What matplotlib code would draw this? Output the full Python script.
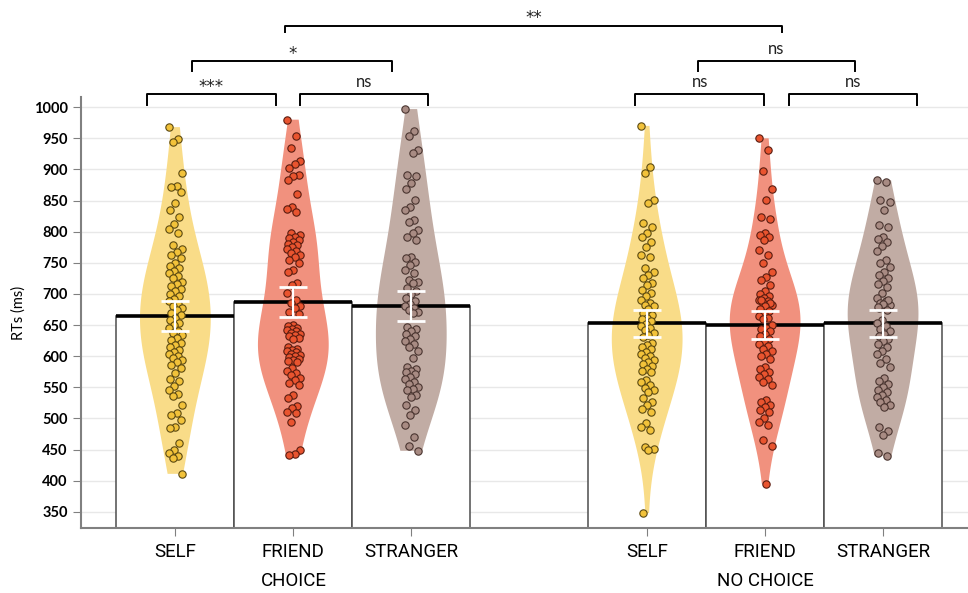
"""RT violins + bars, choice vs no-choice, self / friend / stranger."""
import numpy as np
import matplotlib
matplotlib.use("Agg")
import matplotlib.pyplot as plt

# ---- data ---------------------------------------------------------------
CATEGORIES = ["SELF", "FRIEND", "STRANGER"]
GROUPS = ["CHOICE", "NO CHOICE"]

means_choice = [664, 687, 680]
means_nochoice = [653, 650, 653]
sem_choice = [24, 24, 24]
sem_nochoice = [22, 22, 22]

choice_self = [968, 949, 944, 895, 874, 872, 863, 846, 835, 823, 812, 805, 798,
               778, 772, 768, 762, 758, 750, 745, 741, 737, 733, 729, 726, 720,
               716, 712, 708, 704, 700, 696, 692, 688, 684, 680, 678, 674, 670,
               666, 662, 658, 653, 650, 646, 641, 637, 634, 630, 626, 622, 618,
               615, 610, 606, 603, 600, 597, 594, 590, 586, 581, 573, 563, 560,
               552, 545, 539, 536, 522, 509, 506, 497, 487, 485, 461, 449, 445,
               440, 437, 411]
choice_friend = [980, 954, 935, 914, 908, 903, 891, 889, 883, 860, 840, 836, 832,
                 798, 795, 792, 790, 787, 784, 781, 778, 775, 772, 769, 766, 763,
                 760, 754, 749, 738, 735, 718, 715, 701, 690, 685, 680, 677, 671,
                 668, 650, 648, 646, 644, 642, 640, 638, 636, 634, 632, 630, 628,
                 615, 612, 610, 608, 606, 604, 602, 600, 598, 596, 594, 592, 590,
                 581, 577, 573, 569, 565, 561, 557, 554, 537, 533, 520, 517, 511,
                 508, 495, 449, 443, 441]
choice_stranger = [997, 961, 953, 932, 926, 891, 889, 878, 868, 851, 840, 835, 819,
                   816, 803, 798, 792, 786, 760, 757, 752, 746, 738, 733, 722, 720,
                   717, 710, 705, 700, 693, 688, 684, 680, 677, 674, 671, 669, 647,
                   643, 640, 636, 632, 628, 624, 620, 614, 608, 597, 583, 580, 577,
                   574, 571, 567, 563, 559, 555, 551, 548, 546, 538, 535, 522, 514,
                   506, 490, 470, 455, 448]
nochoice_self = [970, 904, 894, 851, 846, 814, 808, 798, 792, 784, 776, 762, 760,
                 741, 736, 730, 726, 718, 714, 706, 702, 696, 690, 685, 682, 680,
                 676, 669, 666, 662, 659, 656, 652, 649, 646, 642, 638, 634, 631,
                 621, 618, 614, 611, 607, 604, 600, 597, 594, 590, 587, 584, 580,
                 577, 575, 562, 558, 553, 549, 545, 543, 533, 527, 521, 515, 510,
                 493, 487, 482, 454, 451, 449, 348]
nochoice_friend = [950, 932, 898, 868, 851, 823, 820, 798, 795, 792, 786, 770, 762,
                   749, 736, 728, 722, 714, 704, 700, 697, 694, 691, 688, 685, 682,
                   680, 690, 686, 680, 676, 672, 668, 665, 662, 659, 650, 646, 643,
                   640, 636, 632, 628, 624, 620, 616, 612, 608, 604, 600, 596, 583,
                   579, 575, 571, 567, 563, 558, 554, 530, 526, 522, 518, 514, 510,
                   500, 495, 490, 465, 455, 395]
nochoice_stranger = [883, 880, 851, 848, 835, 811, 808, 791, 788, 784, 777, 769,
                     754, 749, 743, 736, 731, 726, 721, 716, 711, 701, 693, 689,
                     686, 683, 680, 677, 690, 684, 679, 674, 658, 653, 648, 644,
                     640, 636, 632, 628, 624, 619, 614, 609, 603, 595, 589, 583,
                     565, 560, 555, 550, 546, 542, 538, 534, 530, 526, 522, 518,
                     486, 480, 473, 445, 440]

# significance: (left cat index, right cat index, label) per level
sig_level1 = [(0, 1, "***"), (1, 2, "ns"), (3, 4, "ns"), (4, 5, "ns")]
sig_level2 = [(0, 2, "*"), (3, 5, "ns")]
sig_level3 = [(0, 3, "**")]

# ---- styling ------------------------------------------------------------
VIOLIN = ["#F9DC88", "#F1917E", "#C1ACA4"]
DOT = ["#F2C23A", "#E9542F", "#A88B83"]
DOT_EDGE = ["#5C4A12", "#5A1C10", "#4A3530"]
POS = [0, 1, 2, 4, 5, 6]
LABEL_FONT = ["Roboto", "DejaVu Sans"]

plt.rcParams["font.family"] = ["Lato", "DejaVu Sans"]

fig = plt.figure(figsize=(9.68, 5.93), dpi=100)
ax = fig.add_axes([0.0837, 0.1096, 0.9163, 0.7264])

samples = [choice_self, choice_friend, choice_stranger,
           nochoice_self, nochoice_friend, nochoice_stranger]
means = means_choice + means_nochoice
sems = sem_choice + sem_nochoice

# bars
ax.bar(POS, [m - 300 for m in means], bottom=300, width=1.0, color="white",
       edgecolor="#4d4d4d", linewidth=1.1, zorder=1)

# violins
vp = ax.violinplot(samples, positions=POS, widths=0.6, showextrema=False,
                   points=200, bw_method=0.48)
for i, body in enumerate(vp["bodies"]):
    body.set_facecolor(VIOLIN[i % 3])
    body.set_edgecolor("none")
    body.set_alpha(1.0)
    body.set_zorder(2)

# mean line on top of each bar
for p, m in zip(POS, means):
    ax.hlines(m, p - 0.5, p + 0.5, color="black", linewidth=2.6, zorder=3)

# jittered dots
for i, (p, vals) in enumerate(zip(POS, samples)):
    n = len(vals)
    jit = (((np.arange(n) * 7) % 11) - 5) / 5.0 * 0.055
    ax.scatter(p + jit, vals, s=28, color=DOT[i % 3], edgecolor=DOT_EDGE[i % 3],
               linewidth=0.8, zorder=4)

# error bars
ax.errorbar(POS, means, yerr=sems, fmt="none", ecolor="white", elinewidth=1.6,
            capsize=10, capthick=2, zorder=5)

ax.set_xlim(-0.8, 6.72)
ax.set_ylim(324, 1016)
ax.set_yticks(range(350, 1001, 50))
ax.set_yticklabels([str(v) for v in range(350, 1001, 50)], fontsize=10.5,
                   fontweight="bold")
ax.set_xticks(POS)
ax.set_xticklabels(CATEGORIES * 2, fontsize=13.5, family=LABEL_FONT)
ax.tick_params(axis="x", length=6, color="#808080", pad=5)
ax.tick_params(axis="y", length=6, color="#808080")
ax.set_ylabel("RTs (ms)", fontsize=10.5, labelpad=6)
ax.grid(axis="y", color="#e8e8e8", linewidth=1.0, zorder=0)
ax.set_axisbelow(True)
for s in ("top", "right"):
    ax.spines[s].set_visible(False)
for s in ("left", "bottom"):
    ax.spines[s].set_color("#808080")
    ax.spines[s].set_linewidth(1.5)

for gi, g in enumerate(GROUPS):
    ax.text(POS[gi * 3 + 1], -0.123, g, ha="center", va="center", fontsize=13.5,
            family=LABEL_FONT, transform=ax.get_xaxis_transform())

# significance brackets (x offsets are layout, not data)
def bracket(x1, x2, y, tip, label, ty):
    ax.plot([x1, x1, x2, x2], [y - tip, y, y, y - tip], color="black",
            linewidth=1.4, clip_on=False)
    if label.startswith("*"):
        ax.text((x1 + x2) / 2, ty - 8, label, ha="center", va="center",
                fontsize=12, family=["DejaVu Sans"], color="#222222",
                clip_on=False)
    else:
        ax.text((x1 + x2) / 2, ty, label, ha="center", va="center",
                fontsize=12, color="#222222", clip_on=False)

lvl1_off = [(-0.24, -0.15), (0.06, 0.14), (-0.10, -0.01), (0.20, 0.29)]
for (a, b, lab), (oa, ob) in zip(sig_level1, lvl1_off):
    bracket(POS[a] + oa, POS[b] + ob, 1022, 18, lab, 1040)
lvl2_off = [(0.14, -0.16), (0.43, -0.24)]
for (a, b, lab), (oa, ob) in zip(sig_level2, lvl2_off):
    bracket(POS[a] + oa, POS[b] + ob, 1075, 17, lab, 1094)
for a, b, lab in sig_level3:
    bracket(POS[a] + 0.93, 5.14, 1130, 9, lab, 1151)

fig.savefig("out.png", dpi=100)
